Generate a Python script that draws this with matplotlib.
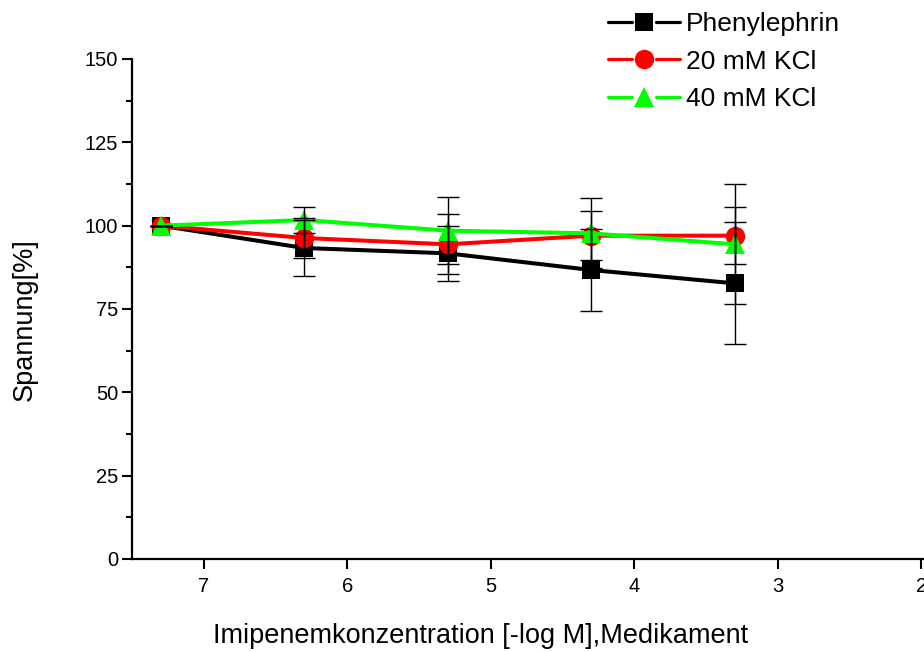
import matplotlib
matplotlib.use("Agg")
import matplotlib.pyplot as plt
from matplotlib.lines import Line2D
from matplotlib.legend_handler import HandlerBase
from matplotlib.ticker import MultipleLocator

plt.rcParams['font.family'] = ['Liberation Sans', 'DejaVu Sans']

# Concentration (-log M)
conc = [7.3, 6.3, 5.3, 4.3, 3.3]

phenyl = [100.0, 93.3, 91.7, 86.7, 82.7]
phenyl_err = [0.0, 8.4, 8.2, 12.2, 18.3]

kcl20 = [100.0, 96.3, 94.4, 97.0, 97.0]
kcl20_err = [0.0, 6.0, 9.0, 7.4, 8.5]

kcl40 = [100.0, 101.7, 98.5, 97.7, 94.4]
kcl40_err = [0.0, 4.0, 10.0, 10.5, 18.0]

series = [
    ("Phenylephrin", phenyl, phenyl_err, "#000000", "s", 13.0),
    ("20 mM KCl", kcl20, kcl20_err, "#ff0000", "o", 14.0),
    ("40 mM KCl", kcl40, kcl40_err, "#00ff00", "^", 14.5),
]

y_ticks = [0, 25, 50, 75, 100, 125, 150]
x_ticks = [7, 6, 5, 4, 3, 2]

W, H = 924, 652
fig = plt.figure(figsize=(W / 100, H / 100), dpi=100)
ax_w = 6.0 * 143.5
ax = fig.add_axes([132 / W, 93 / H, ax_w / W, 500 / H])

for name, vals, err, col, mk, ms in series:
    ax.plot(conc, vals, color=col, lw=2.9, marker=mk, ms=ms,
            markeredgewidth=0, zorder=3)

for name, vals, err, col, mk, ms in series:
    ax.errorbar(conc, vals, yerr=err, fmt='none', ecolor='black',
                elinewidth=1.0, capsize=8, capthick=1.0, zorder=5)

ax.set_xlim(7.5, 1.5)
ax.set_ylim(0, 150)
ax.set_xticks(x_ticks)
ax.set_yticks(y_ticks)
ax.yaxis.set_minor_locator(MultipleLocator(12.5))

for s in ('top', 'right'):
    ax.spines[s].set_visible(False)
for s in ('left', 'bottom'):
    ax.spines[s].set_linewidth(1.6)
    ax.spines[s].set_clip_on(False)

ax.tick_params(axis='both', which='major', direction='out', length=7,
               width=1.5, labelsize=14.5)
ax.tick_params(axis='x', which='major', pad=6)
ax.tick_params(axis='y', which='major', pad=3)
ax.tick_params(axis='y', which='minor', direction='out', length=4, width=1.5)

ax.set_xlabel("Imipenemkonzentration [-log M],Medikament", fontsize=19.5)
ax.set_ylabel("Spannung[%]", fontsize=19.5)
# label centres in axes coordinates
ax.xaxis.set_label_coords((481 - 132) / ax_w, -(636 - 559) / 500)
ax.xaxis.label.set_va('center')
ax.yaxis.set_label_coords(-(132 - 25) / ax_w, (559 - 320) / 500)
ax.yaxis.label.set_va('center')


class BrokenLineHandler(HandlerBase):
    def create_artists(self, legend, orig_handle, xdescent, ydescent,
                       width, height, fontsize, trans):
        y = height / 2 - ydescent
        x0 = -xdescent
        x1 = x0 + width
        xm = (x0 + x1) / 2
        gap = 0.17 * width
        col = orig_handle.get_color()
        left = Line2D([x0, xm - gap], [y, y], color=col, lw=2.3,
                      solid_capstyle='round', transform=trans)
        right = Line2D([xm + gap, x1], [y, y], color=col, lw=2.3,
                       solid_capstyle='round', transform=trans)
        mark = Line2D([xm], [y], ls='none', marker=orig_handle.get_marker(),
                      ms=orig_handle.get_markersize(), color=col,
                      markeredgewidth=0, transform=trans)
        return [left, right, mark]


handles = [Line2D([], [], color=col, marker=mk, ms=ms)
           for name, vals, err, col, mk, ms in series]
labels = [s[0] for s in series]
handler = BrokenLineHandler()
leg = fig.legend(handles, labels, loc='upper left',
                 bbox_to_anchor=(590 / W, 1 + 6 / H), frameon=False,
                 fontsize=19, handlelength=2.7, handletextpad=0.25,
                 labelspacing=0.5, borderpad=0.2,
                 handler_map={Line2D: handler})

fig.savefig("out.png", dpi=100)
